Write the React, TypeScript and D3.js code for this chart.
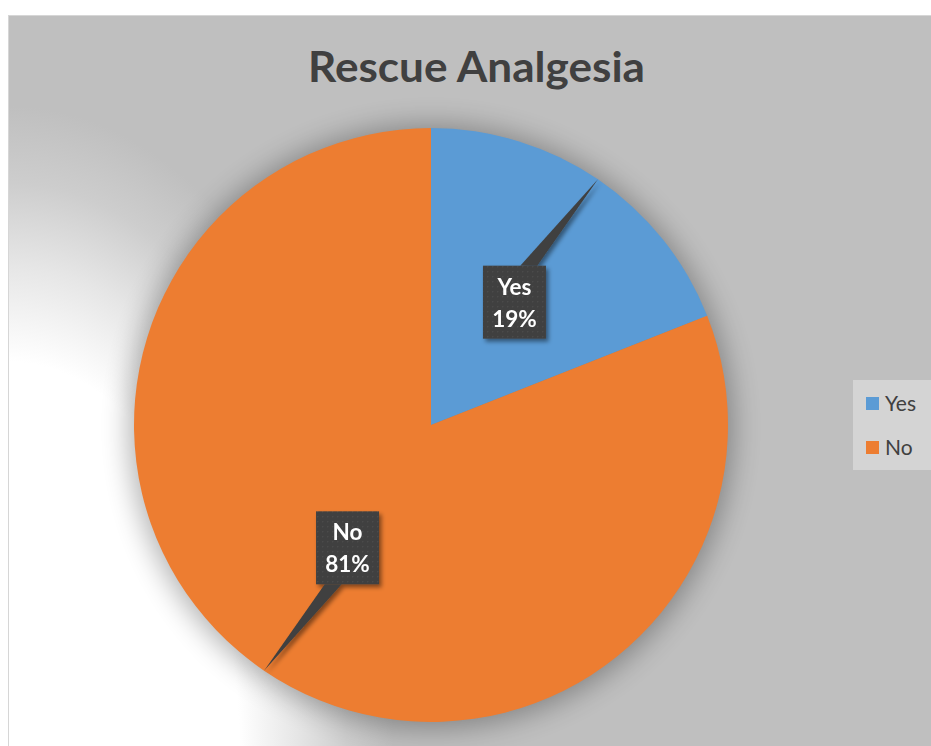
import React from "react";
import * as d3 from "d3";

const categories = ["Yes", "No"];
const values = [19, 81];
const percentLabels = ["19%", "81%"];
const colors = ["#5B9BD5", "#ED7D31"];
const title = "Rescue Analgesia";

const W = 931;
const H = 746;
const cx = 431;
const cy = 425;
const R = 297;

export default function App() {
  const pie = d3.pie<number>().sort(null).value((d) => d);
  const arcs = pie(values);
  const arcGen = d3.arc<d3.PieArcDatum<number>>().innerRadius(0).outerRadius(R);

  const boxW = 63;
  const boxH = 73;

  const labels = arcs.map((a, i) => {
    const [lx, ly] = arcGen.centroid(a);
    const mid = (a.startAngle + a.endAngle) / 2;
    const tip = [R * Math.sin(mid), -R * Math.cos(mid)];
    const edgeY = tip[1] < ly ? ly - boxH / 2 : ly + boxH / 2;
    const t = (edgeY - ly) / (tip[1] - ly);
    const ix = lx + (tip[0] - lx) * t;
    const dir = lx > ix ? 1 : -1;
    const b1 = ix + dir * 2;
    const b2 = ix + dir * 19;
    const wedge = `M${b1},${edgeY} L${tip[0]},${tip[1]} L${b2},${edgeY} Z`;
    return { lx, ly, wedge, cat: categories[i], pct: percentLabels[i] };
  });

  return (
    <svg
      width={W}
      height={H}
      style={{ position: "absolute", left: 0, top: 0, display: "block" }}
      fontFamily="Lato, 'Open Sans', sans-serif"
    >
      <defs>
        <radialGradient
          id="bg"
          gradientUnits="userSpaceOnUse"
          cx={0}
          cy={0}
          r={1}
          gradientTransform="translate(8,746) scale(385,640)"
        >
          <stop offset="0" stopColor="#ffffff" />
          <stop offset="0.6" stopColor="#ffffff" />
          <stop offset="0.75" stopColor="#e6e6e6" />
          <stop offset="0.88" stopColor="#cdcdcd" />
          <stop offset="1" stopColor="#bfbfbf" />
        </radialGradient>
        <filter id="pieShadow" x="-25%" y="-25%" width="150%" height="150%">
          <feGaussianBlur stdDeviation="14" />
        </filter>
        <filter id="boxShadow" x="-30%" y="-30%" width="160%" height="160%">
          <feDropShadow dx="2.5" dy="3" stdDeviation="2" floodColor="#000" floodOpacity="0.45" />
        </filter>
        <pattern id="dots" width="5" height="5" patternUnits="userSpaceOnUse">
          <rect width="5" height="5" fill="#404040" />
          <rect x="1" y="1" width="1.3" height="1.3" fill="#4c4c4c" />
        </pattern>
      </defs>

      <rect x={8.5} y={15.5} width={W + 10} height={H + 10} fill="url(#bg)" stroke="#d6d6d6" strokeWidth={1} />

      <text
        x={476.5}
        y={82}
        textAnchor="middle"
        fontSize={42}
        fontWeight={700}
        fill="#404040"
        textLength={337}
        lengthAdjust="spacingAndGlyphs"
      >
        {title}
      </text>

      <circle cx={cx} cy={cy + 2} r={R + 5} fill="#000" opacity={0.3} filter="url(#pieShadow)" />

      <g transform={`translate(${cx},${cy})`}>
        {arcs.map((a, i) => (
          <path key={i} d={arcGen(a) || ""} fill={colors[i]} />
        ))}
        {labels.map((l, i) => (
          <g key={i} filter="url(#boxShadow)">
            <path d={l.wedge} fill="#404040" />
            <rect
              x={l.lx - boxW / 2}
              y={l.ly - boxH / 2}
              width={boxW}
              height={boxH}
              fill="url(#dots)"
            />
            <text
              x={l.lx}
              y={l.ly - 7.5}
              textAnchor="middle"
              fontSize={22.5}
              fontWeight={700}
              fill="#ffffff"
            >
              {l.cat}
            </text>
            <text
              x={l.lx}
              y={l.ly + 24.5}
              textAnchor="middle"
              fontSize={22.5}
              fontWeight={700}
              fill="#ffffff"
            >
              {l.pct}
            </text>
          </g>
        ))}
      </g>

      <rect x={853} y={380} width={90} height={90} fill="#d4d4d4" />
      {categories.map((c, i) => (
        <g key={c}>
          <rect x={866} y={397 + i * 44} width={13} height={13} fill={colors[i]} />
          <text x={885} y={411 + i * 44} fontSize={21} fill="#404040">
            {c}
          </text>
        </g>
      ))}
    </svg>
  );
}
